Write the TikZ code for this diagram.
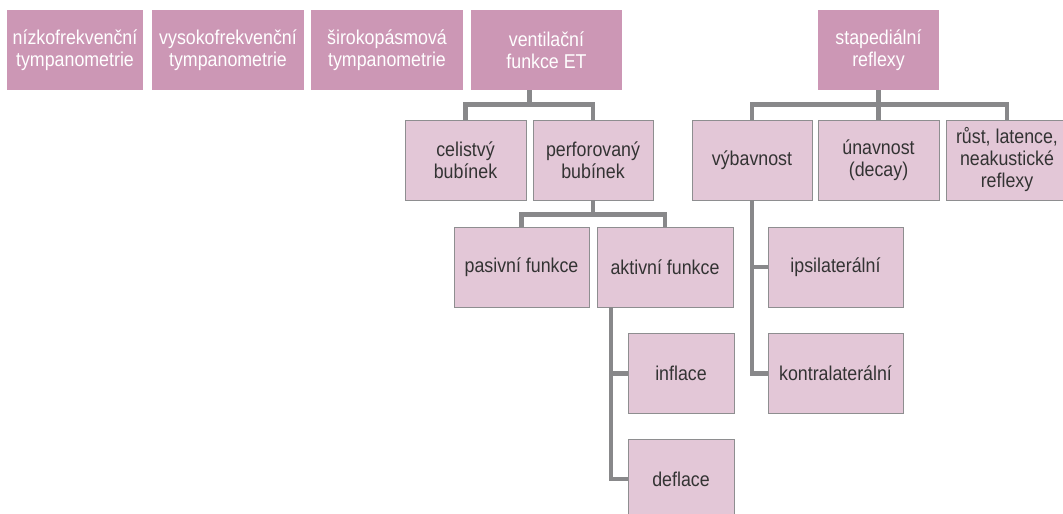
\documentclass[tikz,border=0pt]{standalone}
\usepackage{fontspec}
\setmainfont{Liberation Sans}[FakeStretch=0.89]
\usepackage{tikz}
\usetikzlibrary{calc}
\definecolor{hpink}{HTML}{CC97B5}
\definecolor{lpink}{HTML}{E3C7D7}
\definecolor{lgray}{HTML}{8E8E90}
\definecolor{cgray}{HTML}{88888A}
\definecolor{tdark}{HTML}{333333}
\tikzset{
  head/.style={rectangle, fill=hpink, text=white, minimum height=80pt, inner sep=0pt,
               align=center, font=\fontsize{20}{22}\selectfont},
  box/.style={rectangle, draw=lgray, line width=0.8pt, fill=lpink, text=tdark,
              minimum height=80pt, inner sep=0pt, align=center, font=\fontsize{20}{22}\selectfont},
  link/.style={draw=cgray, line width=4.6pt}
}
\begin{document}
\begin{tikzpicture}[x=1pt, y=-1pt]
  \useasboundingbox (0,0) rectangle (1063,514);
  % top row
  \node[head, minimum width=136pt] (nizko) at (75,50) {nízkofrekvenční\\tympanometrie};
  \node[head, minimum width=152pt] (vysoko) at (228,50) {vysokofrekvenční\\tympanometrie};
  \node[head, minimum width=152pt] (siroko) at (387,50) {širokopásmová\\tympanometrie};
  \node[head, minimum width=151pt] (vent) at (546.5,50) {ventilační\\funkce ET};
  \node[head, minimum width=121pt] (staped) at (878.5,50) {stapediální\\reflexy};

  % ventilation branch
  \node[box, minimum width=121pt] (celist) at (465.5,160) {celistvý\\bubínek};
  \node[box, minimum width=120pt] (perf) at (593,160) {perforovaný\\bubínek};
  \node[box, minimum width=135pt] (pasiv) at (521.5,267) {pasivní funkce};
  \node[box, minimum width=136pt] (aktiv) at (665,267) {aktivní funkce};
  \node[box, minimum width=106pt] (infl) at (681,373.5) {inflace};
  \node[box, minimum width=106pt] (defl) at (681,479) {deflace};

  % reflex branch
  \node[box, minimum width=120pt] (vybav) at (752,160) {výbavnost};
  \node[box, minimum width=121pt] (unav) at (878.5,160) {únavnost\\(decay)};
  \node[box, minimum width=122pt] (rust) at (1007,160) {růst, latence,\\neakustické\\reflexy};
  \node[box, minimum width=135pt] (ipsi) at (835.5,267) {ipsilaterální};
  \node[box, minimum width=135pt] (kontra) at (835.5,373.5) {kontralaterální};

  % connectors
  \coordinate (ventmid) at ($(celist.north)!.5!(perf.north)$);
  \draw[link] (celist.north) -- ++(0,-15) -| (perf.north);
  \draw[link] (vent.south -| ventmid) -- ($(ventmid)+(0,-15)$);
  \draw[link] (pasiv.north) -- ++(0,-12) -| (aktiv.north);
  \draw[link] (perf.south) -- ++(0,15);
  \coordinate (aktivdrop) at ($(infl.west)+(-16.5,0)$);
  \draw[link] (aktiv.south -| aktivdrop) |- (defl.west);
  \draw[link] (aktivdrop) -- (infl.west);

  \draw[link] (vybav.north) -- ++(0,-15) -| (rust.north);
  \draw[link] (staped.south) -- (unav.north);
  \draw[link] (vybav.south) |- (kontra.west);
  \draw[link] (vybav.south |- ipsi.west) -- (ipsi.west);
\end{tikzpicture}
\end{document}
